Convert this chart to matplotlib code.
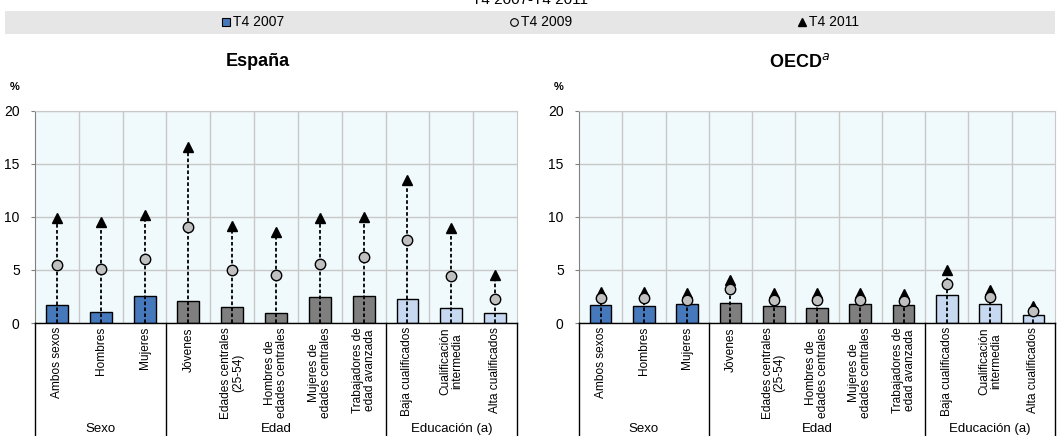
import matplotlib
matplotlib.use('Agg')
import matplotlib.pyplot as plt
from matplotlib.lines import Line2D
from matplotlib.patches import Rectangle
import matplotlib.transforms as mtransforms

plt.rcParams['font.family'] = ['Liberation Sans', 'DejaVu Sans']

categories = ["Ambos sexos", "Hombres", "Mujeres", "Jóvenes",
              "Edades centrales\n(25-54)", "Hombres de\nedades centrales",
              "Mujeres de\nedades centrales", "Trabajadores de\nedad avanzada",
              "Baja cualificados", "Cualificación\nintermedia", "Alta cualificados"]
groups = ["Sexo", "Edad", "Educación (a)"]
group_sizes = [3, 5, 3]
series_labels = ["T4 2007", "T4 2009", "T4 2011"]

spain_2007 = [1.7, 1.07, 2.5, 2.04, 1.54, 0.94, 2.41, 2.5, 2.29, 1.41, 0.94]
spain_2009 = [5.49, 5.08, 6.0, 9.09, 4.98, 4.51, 5.52, 6.2, 7.8, 4.42, 2.29]
spain_2011 = [9.87, 9.56, 10.2, 16.55, 9.18, 8.53, 9.87, 9.94, 13.5, 8.93, 4.48]

oecd_2007 = [1.69, 1.57, 1.82, 1.91, 1.57, 1.44, 1.82, 1.69, 2.66, 1.82, 0.78]
oecd_2009 = [2.32, 2.38, 2.19, 3.2, 2.13, 2.13, 2.13, 2.04, 3.67, 2.48, 1.16]
oecd_2011 = [2.9, 2.95, 2.82, 4.08, 2.82, 2.79, 2.85, 2.73, 4.98, 3.07, 1.57]

group_colors = ["#4679bc", "#7f7f7f", "#c6d9f1"]

W, H = 1060, 436
fig = plt.figure(figsize=(W / 100, H / 100), dpi=100)


def fx(x):
    return x / W


def fy(y):
    return 1 - y / H


# top title (partially cut at the top edge, as in the reference)
fig.text(fx(530), fy(4), "T4 2007-T4 2011", ha='center', va='baseline', fontsize=11)

# legend band
fig.patches.append(Rectangle((fx(5), fy(34)), fx(1050), (34 - 11) / H,
                             transform=fig.transFigure, facecolor='#e6e6e6',
                             edgecolor='none', zorder=0))
handles = [
    Line2D([], [], linestyle='none', marker='s', markersize=6,
           markerfacecolor=group_colors[0], markeredgecolor='black', markeredgewidth=0.8),
    Line2D([], [], linestyle='none', marker='o', markersize=5.5,
           markerfacecolor='#e0e0e0', markeredgecolor='black', markeredgewidth=0.8),
    Line2D([], [], linestyle='none', marker='^', markersize=6,
           markerfacecolor='black', markeredgecolor='black'),
]
fig.legend(handles, series_labels, loc='center', bbox_to_anchor=(fx(540), fy(22.5)),
           ncol=3, frameon=False, fontsize=10, handlelength=0.7, handletextpad=0.15,
           columnspacing=16.2, borderpad=0)


def draw_panel(x0, x1, title, title_x, v07, v09, v11):
    ytop, ybot = 110.7, 323.0
    ax = fig.add_axes([fx(x0), fy(ybot), (x1 - x0) / W, (ybot - ytop) / H])
    ax.set_facecolor('#f0f9fc')
    n = len(categories)
    xs = list(range(n))
    cols = []
    for g, size in enumerate(group_sizes):
        cols += [group_colors[g]] * size
    ax.set_xlim(-0.5, n - 0.5)
    ax.set_ylim(0, 20)
    ax.set_yticks([0, 5, 10, 15, 20])
    ax.set_xticks([i + 0.5 for i in range(n - 1)], minor=True)
    ax.grid(True, which='major', axis='y', color='#c8c8c8', linewidth=1.0, zorder=0)
    ax.grid(True, which='minor', axis='x', color='#c8c8c8', linewidth=1.0, zorder=0)
    ax.set_axisbelow(True)
    ax.bar(xs, v07, width=0.5, color=cols, edgecolor='black', linewidth=1.0, zorder=2)
    for i in xs:
        top = max(v09[i], v11[i])
        ax.plot([i, i], [0, top], color='black', linestyle=(0, (2.0, 1.3)),
                linewidth=1.3, zorder=3)
    ax.plot(xs, v09, linestyle='none', marker='o', markersize=7.5,
            markerfacecolor='#c0c0c0', markeredgecolor='black', markeredgewidth=1.0, zorder=5)
    ax.plot(xs, v11, linestyle='none', marker='^', markersize=7.5,
            markerfacecolor='black', markeredgecolor='black', zorder=4)

    for side in ['top', 'right']:
        ax.spines[side].set_color('#c8c8c8')
    ax.spines['left'].set_color('#808080')
    ax.spines['bottom'].set_color('black')
    ax.spines['bottom'].set_linewidth(1.0)

    ax.tick_params(axis='y', which='major', length=3, pad=8, labelsize=10,
                   color='#808080')
    ax.tick_params(axis='x', which='both', length=0)
    ax.set_xticks(xs)
    ax.set_xticklabels(categories, rotation=90, va='top', ha='center',
                       multialignment='center', fontsize=8.6, linespacing=1.0)
    ax.tick_params(axis='x', which='major', pad=3)

    # group separators and labels
    trans = mtransforms.blended_transform_factory(ax.transData, ax.transAxes)
    depth = (H - ybot) / (ybot - ytop)
    bounds = [-0.5]
    acc = -0.5
    for s in group_sizes:
        acc += s
        bounds.append(acc)
    for b in bounds:
        ax.plot([b, b], [0, -depth], color='black', linewidth=1.0,
                transform=trans, clip_on=False, zorder=6)
    for g, name in enumerate(groups):
        cx = (bounds[g] + bounds[g + 1]) / 2
        ax.text(cx, -(429 - ybot) / (ybot - ytop), name, transform=trans,
                ha='center', va='center', fontsize=9.5)

    fig.text(fx(title_x), fy(62), title, ha='center', va='center',
             fontsize=13, fontweight='bold')
    fig.text(fx(x0 - 20), fy(87), "%", ha='center', va='center', fontsize=8,
             fontweight='bold')
    return ax


draw_panel(35, 517, "España", 258, spain_2007, spain_2009, spain_2011)
draw_panel(579, 1055, r"OECD$^{a}$", 800, oecd_2007, oecd_2009, oecd_2011)

fig.savefig("out.png", dpi=100)
